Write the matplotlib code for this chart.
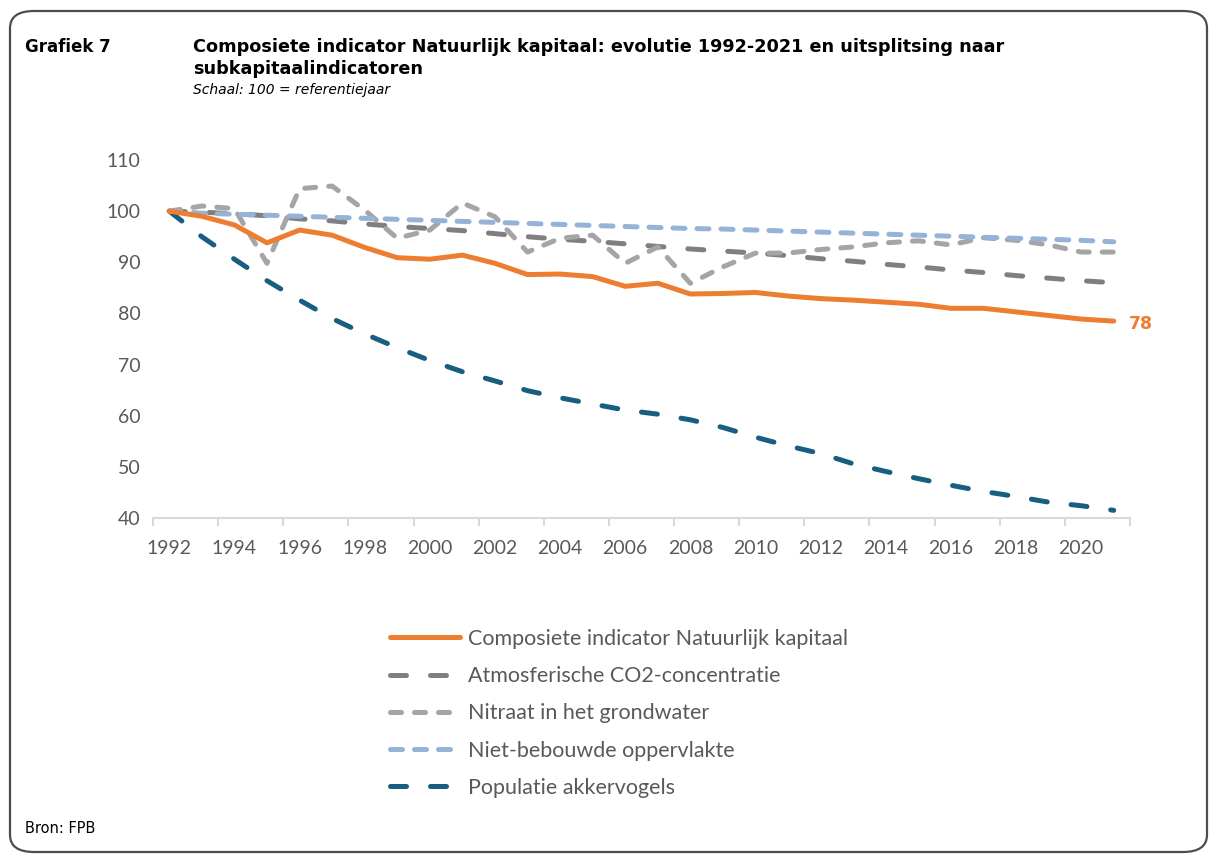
#!/usr/bin/env python3

import numpy as np
from matplotlib import pyplot as plt
from matplotlib.patches import FancyBboxPatch
from matplotlib.ticker import MultipleLocator, FixedLocator

# * Data

YEARS = list(range(1992, 2022))

COMPOSIET = [100.0, 99.0, 97.3, 93.8, 96.3, 95.3, 92.9, 90.9, 90.6, 91.4,
             89.8, 87.6, 87.7, 87.2, 85.3, 85.9, 83.8, 83.9, 84.1, 83.4,
             82.9, 82.6, 82.2, 81.8, 81.0, 81.0, 80.3, 79.6, 78.9, 78.5]
CO2 = [100.0, 99.8, 99.5, 99.1, 98.5, 98.1, 97.5, 97.0, 96.6, 96.2,
       95.6, 95.0, 94.5, 94.1, 93.6, 93.1, 92.6, 92.2, 91.8, 91.3,
       90.7, 90.2, 89.6, 89.1, 88.5, 88.0, 87.4, 86.9, 86.4, 86.0]
NITRAAT = [100.0, 101.0, 100.5, 89.8, 104.4, 104.9, 100.2, 94.7, 96.3, 101.6,
           98.9, 92.0, 94.7, 95.3, 89.8, 93.0, 85.9, 89.1, 91.8, 91.8,
           92.5, 93.0, 93.8, 94.2, 93.4, 94.8, 94.3, 93.4, 92.0, 92.0]
ONBEBOUWD = [100.0, 99.6, 99.4, 99.2, 99.0, 98.8, 98.6, 98.4, 98.2, 98.0,
             97.8, 97.6, 97.4, 97.2, 97.0, 96.8, 96.6, 96.5, 96.3, 96.1,
             95.9, 95.7, 95.5, 95.3, 95.1, 94.9, 94.7, 94.5, 94.3, 94.0]
AKKERVOGELS = [100.0, 95.0, 90.6, 86.4, 82.6, 79.0, 76.0, 73.3, 70.8, 68.6,
               66.8, 64.9, 63.5, 62.3, 61.1, 60.3, 59.2, 57.7, 55.8, 54.1,
               52.6, 50.6, 49.1, 47.7, 46.4, 45.2, 44.2, 43.1, 42.4, 41.5]

LABELS = ["Composiete indicator Natuurlijk kapitaal",
          "Atmosferische CO2-concentratie",
          "Nitraat in het grondwater",
          "Niet-bebouwde oppervlakte",
          "Populatie akkervogels"]

TITLE = "Composiete indicator Natuurlijk kapitaal: evolutie 1992-2021 en uitsplitsing naar\nsubkapitaalindicatoren"
SUBTITLE = "Schaal: 100 = referentiejaar"

# * Style

W, H = 1209, 855
DPI = 100
FONT = ["Lato", "DejaVu Sans"]
HEAD = ["DejaVu Sans"]
TXT = "#595959"
FS_TICK = 14
FS_LEG = 15.5

plt.rcParams["font.family"] = FONT
plt.rcParams["lines.scale_dashes"] = False


def px(v):
    # pixels -> points
    return v * 72.0 / DPI


def main():
    fig = plt.figure(figsize=(W / DPI, H / DPI), dpi=DPI)
    ax = fig.add_axes([153 / W, 1 - 518 / H, (1130 - 153) / W, (518 - 160) / H])

    lw = px(5)
    series = [
        (COMPOSIET, "#ED7D31", None),
        (CO2, "#7F7F7F", (0, (px(16), px(24)))),
        (NITRAAT, "#A5A5A5", (0, (px(11), px(13)))),
        (ONBEBOUWD, "#95B3D7", (0, (px(12), px(12)))),
        (AKKERVOGELS, "#175E80", (0, (px(16), px(24)))),
    ]
    # draw order: background lines first, composite on top of grey ones
    order = [4, 1, 2, 3, 0]
    handles = [None] * 5
    for i in order:
        vals, col, ls = series[i]
        kw = dict(color=col, lw=lw, solid_capstyle="round", dash_capstyle="round",
                  label=LABELS[i])
        if ls is not None:
            kw["linestyle"] = ls
        handles[i], = ax.plot(YEARS, vals, **kw)

    # end label
    ax.annotate("78", xy=(YEARS[-1], COMPOSIET[-1]), xytext=(11, -2),
                textcoords="offset points", color="#ED7D31", fontsize=12.5,
                fontweight="bold", family=HEAD, va="center", ha="left")

    ax.set_xlim(1991.5, 2021.5)
    ax.set_ylim(40, 110)
    ax.yaxis.set_major_locator(MultipleLocator(10))
    ax.xaxis.set_major_locator(FixedLocator(YEARS[::2]))
    ax.xaxis.set_minor_locator(FixedLocator(np.arange(1991.5, 2022, 2)))
    ax.tick_params(axis="x", which="major", length=0, pad=16, labelsize=FS_TICK, labelcolor=TXT)
    ax.tick_params(axis="x", which="minor", length=6, width=1.5, color="#D9D9D9", direction="out")
    ax.tick_params(axis="y", length=0, pad=9, labelsize=FS_TICK, labelcolor=TXT)
    for s in ["top", "right", "left"]:
        ax.spines[s].set_visible(False)
    ax.spines["bottom"].set_color("#D9D9D9")
    ax.spines["bottom"].set_linewidth(1.5)

    leg = fig.legend(handles=handles, loc="upper left", bbox_to_anchor=(390 / W, 1 - 629 / H),
                     frameon=False, fontsize=FS_LEG, handlelength=3.25, handletextpad=0.37,
                     labelspacing=0.8, borderpad=0, borderaxespad=0)
    for t in leg.get_texts():
        t.set_color(TXT)

    # header
    fig.text(25 / W, 1 - 47 / H, "Grafiek 7", fontsize=12, fontweight="bold",
             family=HEAD, va="center", ha="left")
    fig.text(193 / W, 1 - 47 / H, TITLE.split("\n")[0], fontsize=12.7, fontweight="bold",
             family=HEAD, va="center", ha="left")
    fig.text(193 / W, 1 - 69 / H, TITLE.split("\n")[1], fontsize=12.7, fontweight="bold",
             family=HEAD, va="center", ha="left")
    fig.text(193 / W, 1 - 90 / H, SUBTITLE, fontsize=10, style="italic",
             family=HEAD, va="center", ha="left")
    fig.text(25 / W, 1 - 828 / H, "Bron: FPB", fontsize=10.5,
             family=HEAD, va="center", ha="left")

    # rounded frame
    box = FancyBboxPatch((10 / W, 3 / H), 1197 / W, 841 / H,
                         boxstyle="round,pad=0,rounding_size=0.02",
                         transform=fig.transFigure, fill=False,
                         edgecolor="#4D4D4D", lw=1.6)
    fig.patches.append(box)

    fig.savefig("out.png", dpi=DPI)


if __name__ == "__main__":
    main()
